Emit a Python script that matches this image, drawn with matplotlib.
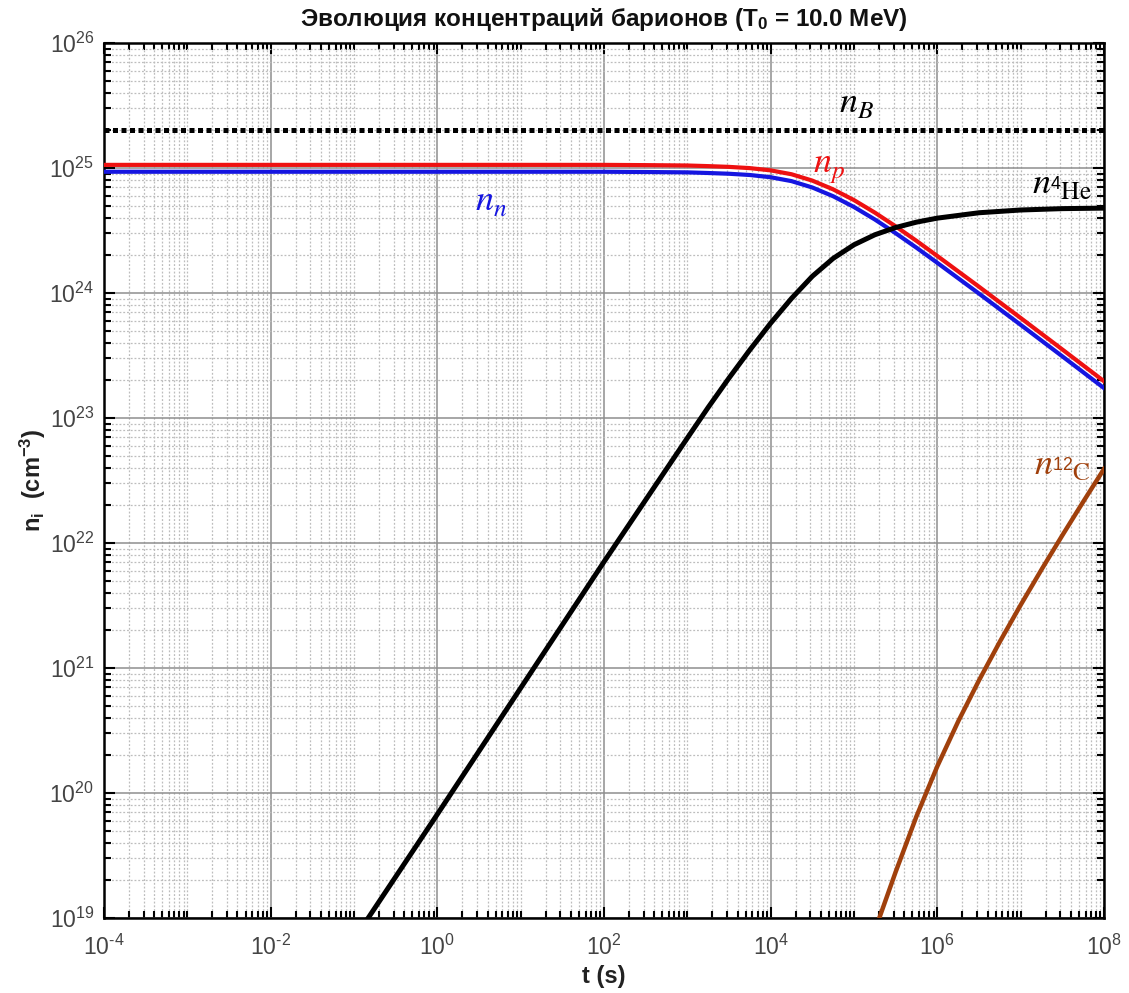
import numpy as np
import matplotlib
matplotlib.use('Agg')
import matplotlib.pyplot as plt
from matplotlib.ticker import FixedLocator, LogLocator, FuncFormatter, NullFormatter

plt.rcParams['font.family'] = ['Liberation Sans', 'DejaVu Sans']
plt.rcParams['mathtext.fontset'] = 'custom'
plt.rcParams['mathtext.rm'] = 'Liberation Sans'
plt.rcParams['mathtext.it'] = 'Liberation Sans:italic'
plt.rcParams['mathtext.bf'] = 'Liberation Sans:bold'
plt.rcParams['mathtext.default'] = 'regular'

# ---------------- data (log10 values) ----------------
n_B = 2.0e25

t_pn_log = [-4, 2, 2.5, 3, 3.25, 3.5, 3.75, 4, 4.25, 4.5, 4.75, 5, 5.25, 5.5, 5.75,
            6, 6.25, 6.5, 7, 7.5, 8]
np_log = [25.025, 25.025, 25.023, 25.020, 25.015, 25.009, 24.999, 24.981, 24.950, 24.899,
          24.829, 24.743, 24.643, 24.533, 24.417, 24.296, 24.173, 24.050, 23.800, 23.548,
          23.294]
nn_log = [24.970, 24.970, 24.968, 24.965, 24.960, 24.954, 24.944, 24.926, 24.895, 24.844,
          24.774, 24.688, 24.588, 24.478, 24.362, 24.241, 24.118, 23.995, 23.745, 23.493,
          23.239]

t_he_log = [-0.9, 0, 1, 2, 3, 3.25, 3.5, 3.75, 4, 4.25, 4.5, 4.75, 5, 5.25, 5.5,
            5.75, 6, 6.5, 7, 7.5, 8]
he_log = [18.93, 19.83, 20.84, 21.85, 22.84, 23.085, 23.32, 23.545, 23.759, 23.957,
          24.134, 24.277, 24.386, 24.466, 24.524, 24.567, 24.599, 24.642, 24.664, 24.675,
          24.679]

t_c_log = [5.25, 5.5, 5.75, 6, 6.25, 6.5, 6.75, 7, 7.25, 7.5, 7.75, 8]
c_log = [18.9, 19.37, 19.815, 20.215, 20.573, 20.902, 21.211, 21.505, 21.788, 22.062,
         22.33, 22.593]

x_major = [1e-4, 1e-2, 1e0, 1e2, 1e4, 1e6, 1e8]
y_major = [1e19, 1e20, 1e21, 1e22, 1e23, 1e24, 1e25, 1e26]

title = 'Эволюция концентраций барионов (T$_0$ = 10.0 MeV)'
xlabel = 't (s)'
ylabel = 'n$_i$  (cm$^{-3}$)'

RED = '#ee1111'
BLUE = '#1515e0'
BROWN = '#a0400c'

# ---------------- figure ----------------
fig = plt.figure(figsize=(11.29, 9.93), dpi=100)
ax = fig.add_axes([0.0921, 0.0755, 0.8858, 0.8812])
ax.set_xscale('log')
ax.set_yscale('log')
ax.set_xlim(1e-4, 1e8)
ax.set_ylim(1e19, 1e26)

tp = 10 ** np.array(t_pn_log)
ax.axhline(n_B, color='black', lw=3.6, linestyle=(0, (1, 0.7)), dash_capstyle='butt', zorder=4)
ax.plot(tp, 10 ** np.array(np_log), color=RED, lw=3.0, zorder=5, solid_joinstyle='round')
ax.plot(tp, 10 ** np.array(nn_log), color=BLUE, lw=3.0, zorder=5, solid_joinstyle='round')
ax.plot(10 ** np.array(t_he_log), 10 ** np.array(he_log), color='black', lw=3.6, zorder=6,
        solid_joinstyle='round')
ax.plot(10 ** np.array(t_c_log), 10 ** np.array(c_log), color=BROWN, lw=3.2, zorder=6,
        solid_joinstyle='round')


def fmt(v, pos):
    k = int(round(np.log10(v)))
    if k < 0:
        return r'$10^{\text{-%d}}$' % (-k)
    return r'$10^{%d}$' % k


# ticks
ax.xaxis.set_major_locator(FixedLocator(x_major))
ax.yaxis.set_major_locator(FixedLocator(y_major))
ax.xaxis.set_minor_locator(LogLocator(base=10, subs=np.arange(1, 10), numticks=100))
ax.yaxis.set_minor_locator(LogLocator(base=10, subs=np.arange(2, 10), numticks=100))
ax.xaxis.set_major_formatter(FuncFormatter(fmt))
ax.yaxis.set_major_formatter(FuncFormatter(fmt))
ax.xaxis.set_minor_formatter(NullFormatter())
ax.yaxis.set_minor_formatter(NullFormatter())
ax.tick_params(which='both', direction='in', top=True, right=True, color='black')
ax.tick_params(which='major', length=8, width=1.5, labelsize=16.5, labelcolor='#444444')
ax.tick_params(axis='x', which='major', pad=12)
ax.tick_params(axis='y', which='major', pad=7)
ax.tick_params(which='minor', length=5, width=1.5)

ax.grid(True, which='major', color='#8e8e8e', lw=1.1, linestyle='-', zorder=1)
ax.grid(True, which='minor', color='#bdbdbd', lw=0.9, linestyle=(0, (1.5, 1.5)), zorder=1)
ax.set_axisbelow(True)
for s in ax.spines.values():
    s.set_linewidth(1.8)
    s.set_color('black')

ax.set_title(title, fontsize=17.5, fontweight='bold', color='#111111', pad=12)
ax.set_xlabel(xlabel, fontsize=17, fontweight='bold', color='#222222', labelpad=4)
ax.set_ylabel(ylabel, fontsize=17, fontweight='bold', color='#222222', labelpad=1)

# curve labels
kw = dict(ha='center', va='center', fontsize=26, math_fontfamily='stix', zorder=7)
ax.text(10 ** 5.03, 10 ** 25.52, r'$\mathit{n}_\mathit{B}$', color='black', **kw)
ax.text(10 ** 4.70, 10 ** 25.00, r'$\mathit{n}_\mathit{p}$', color=RED, **kw)
ax.text(10 ** 0.65, 10 ** 24.74, r'$\mathit{n}_\mathit{n}$', color=BLUE, **kw)
ax.text(10 ** 7.49, 10 ** 24.86, r'$\mathit{n}_{^{4}\mathrm{He}}$', color='black', **kw)
ax.text(10 ** 7.50, 10 ** 22.62, r'$\mathit{n}_{^{12}\mathrm{C}}$', color=BROWN, **kw)

fig.savefig('out.png', dpi=100)
